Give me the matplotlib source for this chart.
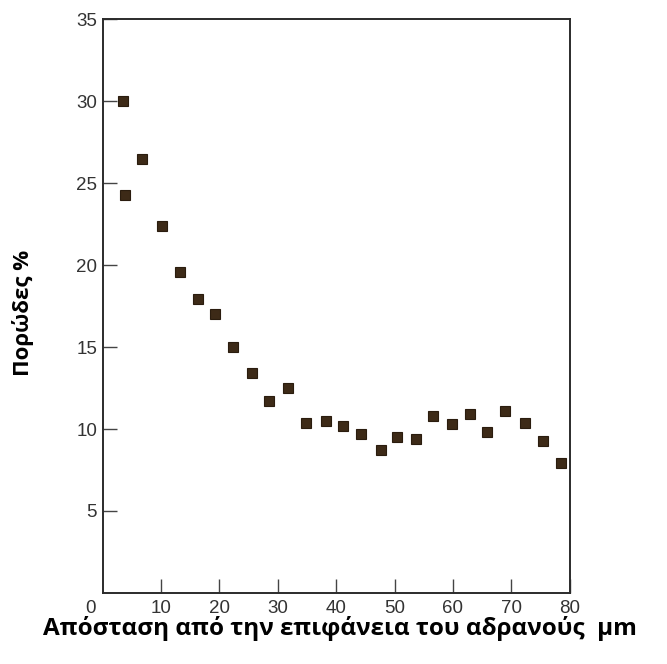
import matplotlib
matplotlib.use("Agg")
import matplotlib.pyplot as plt

# distance from aggregate surface (um) and porosity (%)
distance = [3.5, 3.8, 6.8, 10.2, 13.3, 16.4, 19.2, 22.3, 25.6, 28.5, 31.7,
            34.8, 38.2, 41.2, 44.3, 47.6, 50.5, 53.6, 56.6, 59.9, 63.0,
            65.9, 68.9, 72.3, 75.4, 78.5]
porosity = [30.0, 24.3, 26.5, 22.4, 19.6, 17.95, 17.0, 15.0, 13.4, 11.7, 12.5,
            10.35, 10.5, 10.2, 9.7, 8.7, 9.5, 9.4, 10.8, 10.3, 10.9,
            9.8, 11.1, 10.35, 9.3, 7.95]

xticks = [10, 20, 30, 40, 50, 60, 70, 80]
yticks = [5, 10, 15, 20, 25, 30, 35]

TICKFONT = ["Liberation Sans", "DejaVu Sans"]

fig = plt.figure(figsize=(6.67, 6.64), dpi=100)
ax = fig.add_axes([0.154, 0.107, 0.700, 0.864])

ax.plot(distance, porosity, ls="none", marker="s", ms=7,
        mfc="#3d2a17", mec="#2a1c0e", mew=0.8)

ax.set_xlim(0, 80)
ax.set_ylim(0, 35)
ax.set_xticks(xticks)
ax.set_yticks(yticks)
ax.tick_params(direction="in", length=10, width=1.0, color="#444",
               labelsize=13.5, labelcolor="#333")
ax.tick_params(axis="y", pad=4)
ax.tick_params(axis="x", pad=5)
for s in ax.spines.values():
    s.set_linewidth(1.4)
    s.set_color("#2b2b2b")

for lab in ax.get_xticklabels() + ax.get_yticklabels():
    lab.set_family(TICKFONT)

# the lone origin label sits left of the corner
ax.text(-2.1, -0.45, "0", ha="center", va="top", fontsize=13.5, color="#333",
        family=TICKFONT)

fig.text(0.034, 0.529, "Πορώδες %", rotation=90, ha="center", va="center",
         fontsize=16, fontweight="bold", family=["Open Sans", "DejaVu Sans"])
fig.text(0.51, 0.054, "Απόσταση από την επιφάνεια του αδρανούς  μm",
         ha="center", va="center", fontsize=17.5, fontweight="bold",
         family=["Open Sans", "DejaVu Sans"])

fig.savefig("out.png", dpi=100)
